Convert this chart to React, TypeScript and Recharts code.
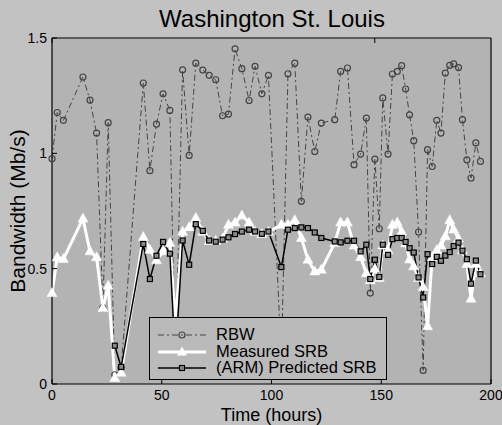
import React from 'react';
import { LineChart, Line, XAxis, YAxis, CartesianGrid } from 'recharts';

// time stamps (hours) shared by the three series
const hours = [
  0, 2.4, 5.2, 14.1, 17.3, 20.3, 23.2, 25.6, 28.6, 31.5,
  41.6, 44.6, 47.6, 50.6, 53.7, 56.2, 59.5, 62.5, 65.5, 68.7,
  71.6, 74.6, 77.7, 80.4, 83.4, 86.5, 89.8, 92.5, 95.6, 98.6,
  104.5, 107.5, 110.6, 113.6, 116.6, 119.7, 122.7, 128.8, 131.5, 134.6,
  137.6, 140.6, 143.2, 145.0, 147.1, 149.1, 150.7, 153.1, 155.1, 157.3,
  159.3, 161.1, 162.9, 164.8, 167.0, 169.1, 171.1, 173.2, 175.3, 177.2,
  179.2, 181.2, 183.0, 185.2, 187.0, 189.0, 190.9, 193.1, 195.2,
];

const rbw = [
  0.977, 1.177, 1.143, 1.331, 1.231, 1.088, 0.33, 1.133, 0.04, 0.07,
  1.305, 0.925, 1.127, 1.258, 1.186, 0.06, 1.362, 0.991, 1.391, 1.361,
  1.338, 1.319, 1.163, 1.17, 1.453, 1.367, 1.229, 1.377, 1.258, 1.338,
  0.1, 1.345, 1.391, 0.792, 1.157, 1.008, 1.131, 1.146, 1.355, 1.37,
  0.951, 0.997, 1.153, 0.394, 0.975, 0.673, 1.24, 0.997, 1.344, 1.355,
  1.38, 1.279, 1.167, 1.055, 0.659, 0.059, 1.016, 0.943, 1.143, 1.088,
  1.348, 1.381, 1.388, 1.372, 1.146, 0.972, 0.893, 1.045, 0.965,
];

const measuredSrb = [
  0.394, 0.549, 0.542, 0.717, 0.575, 0.549, 0.329, 0.426, 0.026, 0.049,
  0.637, 0.582, 0.536, 0.575, 0.611, 0.27, 0.66, 0.68, 0.72, 0.66,
  0.62, 0.62, 0.63, 0.69, 0.7, 0.73, 0.7, 0.66, 0.65, 0.66,
  0.69, 0.69, 0.71, 0.633, 0.539, 0.488, 0.495, 0.611, 0.7, 0.7,
  0.6, 0.55, 0.48, 0.45, 0.5, 0.46, 0.6, 0.58, 0.69, 0.7,
  0.66, 0.61, 0.54, 0.51, 0.46, 0.42, 0.25, 0.55, 0.58, 0.6,
  0.64, 0.71, 0.67, 0.63, 0.58, 0.52, 0.37, 0.52, 0.48,
];

const predictedSrb = [
  null, null, null, null, null, null, null, null, 0.166, 0.074,
  0.607, 0.455, 0.556, 0.616, 0.565, 0.11, 0.622, 0.517, 0.693, 0.664,
  0.622, 0.617, 0.626, 0.636, 0.65, 0.661, 0.669, 0.661, 0.651, 0.661,
  0.507, 0.669, 0.676, 0.679, 0.676, 0.657, 0.633, 0.618, 0.614, 0.621,
  0.621, 0.575, 0.604, 0.455, 0.539, 0.464, 0.604, 0.56, 0.628, 0.633,
  0.633, 0.616, 0.589, 0.57, 0.462, 0.375, 0.563, 0.52, 0.551, 0.534,
  0.557, 0.572, 0.598, 0.613, 0.578, 0.541, 0.435, 0.535, 0.476,
];

const xTicks = [0, 50, 100, 150, 200];
const yTicks = [0, 0.5, 1, 1.5];

const data = hours.map((t, i) => ({
  t,
  rbw: rbw[i],
  srb: measuredSrb[i],
  pred: predictedSrb[i],
}));

const font = '"Liberation Sans", Arial, Helvetica, sans-serif';
const blank = () => '';

const CircleDot = (p: any) => {
  if (p.cy == null || p.value == null) return <g key={p.index} />;
  return <circle key={p.index} cx={p.cx} cy={p.cy} r={3} fill="none" stroke="#454545" strokeWidth={1.2} />;
};

const TriangleDot = (p: any) => {
  if (p.cy == null || p.value == null) return <g key={p.index} />;
  const { cx, cy } = p;
  return (
    <polygon
      key={p.index}
      points={`${cx},${cy - 5.5} ${cx - 5},${cy + 3.5} ${cx + 5},${cy + 3.5}`}
      fill="#fff"
      stroke="#fff"
      strokeWidth={0.5}
    />
  );
};

const SquareDot = (p: any) => {
  if (p.cy == null || p.value == null) return <g key={p.index} />;
  return (
    <rect key={p.index} x={p.cx - 2.5} y={p.cy - 2.5} width={5} height={5} fill="#8a8a8a" stroke="#000" strokeWidth={1.2} />
  );
};

const LegendBox = () => (
  <div
    style={{
      position: 'absolute',
      left: 149,
      top: 317,
      width: 236,
      height: 61,
      border: '1.5px solid #000',
      background: '#bababa',
      fontFamily: font,
      fontSize: 16.5,
      color: '#000',
    }}
  >
    <svg width={60} height={61} style={{ position: 'absolute', left: 0, top: 0 }}>
      <line x1={8} x2={56} y1={17} y2={17} stroke="#454545" strokeWidth={1} strokeDasharray="6 3 2 3" />
      <circle cx={32} cy={17} r={3} fill="none" stroke="#454545" strokeWidth={1.2} />
      <line x1={8} x2={56} y1={34} y2={34} stroke="#fff" strokeWidth={3} />
      <polygon points="32,28.5 27,37.5 37,37.5" fill="#fff" />
      <line x1={8} x2={56} y1={50} y2={50} stroke="#000" strokeWidth={1.5} />
      <rect x={29.5} y={47.5} width={5} height={5} fill="#8a8a8a" stroke="#000" strokeWidth={1.2} />
    </svg>
    <div style={{ position: 'absolute', left: 66, top: 8, lineHeight: '16.5px' }}>
      <div>RBW</div>
      <div>Measured SRB</div>
      <div>(ARM) Predicted SRB</div>
    </div>
  </div>
);

export default function App() {
  return (
    <div
      style={{
        position: 'absolute',
        left: 0,
        top: 0,
        width: 502,
        height: 425,
        background: '#c2c2c2',
        fontFamily: font,
      }}
    >
      <div
        style={{
          position: 'absolute',
          left: 0,
          width: 544,
          top: 5,
          textAlign: 'center',
          fontSize: 24,
          color: '#000',
          lineHeight: '28px',
        }}
      >
        Washington St. Louis
      </div>
      <LineChart width={502} height={425} data={data} margin={{ top: 37, right: 10, bottom: 0, left: 0 }}>
        <CartesianGrid horizontal={false} vertical={false} fill="#b3b3b3" stroke="none" />
        <XAxis
          dataKey="t"
          type="number"
          domain={[0, 200]}
          ticks={xTicks}
          interval={0}
          height={41}
          tickSize={-5}
          tickMargin={11}
          axisLine={{ stroke: '#000', strokeWidth: 1.2 }}
          tickLine={{ stroke: '#000' }}
          tick={{ fill: '#000', fontSize: 14, fontFamily: font }}
          label={{ value: 'Time (hours)', position: 'insideBottom', offset: 4, fill: '#000', fontSize: 18, fontFamily: font }}
        />
        <XAxis
          xAxisId="top"
          orientation="top"
          type="number"
          domain={[0, 200]}
          ticks={xTicks}
          interval={0}
          height={1}
          tickSize={-5}
          tickFormatter={blank}
          axisLine={{ stroke: '#000', strokeWidth: 1.2 }}
          tickLine={{ stroke: '#000' }}
        />
        <YAxis
          type="number"
          domain={[0, 1.5]}
          ticks={yTicks}
          interval={0}
          width={52}
          tickSize={-5}
          tickMargin={10}
          axisLine={{ stroke: '#000', strokeWidth: 1.2 }}
          tickLine={{ stroke: '#000' }}
          tick={{ fill: '#000', fontSize: 14, fontFamily: font }}
          label={{
            value: 'Bandwidth (Mb/s)',
            angle: -90,
            position: 'insideLeft',
            offset: 18,
            fill: '#000',
            fontSize: 21,
            fontFamily: font,
            style: { textAnchor: 'middle' },
          }}
        />
        <YAxis
          yAxisId="right"
          orientation="right"
          type="number"
          domain={[0, 1.5]}
          ticks={yTicks}
          interval={0}
          width={1}
          tickSize={-5}
          tickFormatter={blank}
          axisLine={{ stroke: '#000', strokeWidth: 1.2 }}
          tickLine={{ stroke: '#000' }}
        />
        <Line
          type="linear"
          dataKey="rbw"
          stroke="#454545"
          strokeWidth={1}
          strokeDasharray="6 3 2 3"
          dot={CircleDot}
          activeDot={false}
          isAnimationActive={false}
        />
        <Line
          type="linear"
          dataKey="srb"
          stroke="#fff"
          strokeWidth={3}
          dot={TriangleDot}
          activeDot={false}
          isAnimationActive={false}
        />
        <Line
          type="linear"
          dataKey="pred"
          stroke="#000"
          strokeWidth={1.5}
          dot={SquareDot}
          activeDot={false}
          isAnimationActive={false}
        />
      </LineChart>
      <LegendBox />
    </div>
  );
}
